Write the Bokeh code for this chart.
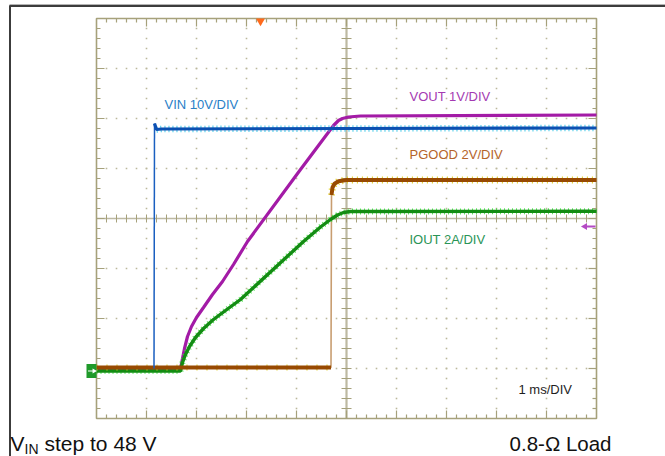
import numpy as np
from bokeh.plotting import figure
from bokeh.models import Range1d
from bokeh.core.properties import value
from bokeh.embed import file_html
from bokeh.resources import INLINE

# ---------------- data (time in ms from left edge of screen, 1 ms/DIV) ----------------
vin_t = [0.0, 1.15, 1.16, 1.20, 1.30, 5.0, 10.0]
vin_v = [0.0, 0.0, 49.0, 47.8, 47.9, 48.0, 48.1]          # V, 10 V/DIV

vout_t = [0.0, 1.68, 1.72, 1.76, 1.82, 1.90, 2.00, 2.14, 2.32, 2.52, 2.74, 3.02, 4.08,
          4.74, 4.84, 4.92, 5.04, 5.28, 10.0]
vout_v = [0.0, 0.0, 0.20, 0.40, 0.64, 0.84, 1.02, 1.22, 1.48, 1.74, 2.08, 2.54, 3.98,
          4.86, 4.96, 5.00, 5.03, 5.05, 5.07]             # V, 1 V/DIV

pg_t = [0.0, 4.69, 4.70, 4.72, 4.76, 4.84, 5.0, 10.0]
pg_v = [0.0, 0.0, 6.9, 7.2, 7.35, 7.45, 7.5, 7.5]          # V, 2 V/DIV

iout_t = [0.0, 1.68, 1.72, 1.78, 1.86, 1.98, 2.14, 2.34, 2.58, 2.88, 4.14, 4.48, 4.68,
          4.82, 4.94, 5.08, 10.0]
iout_a = [0.0, 0.0, 0.34, 0.66, 0.98, 1.34, 1.70, 2.06, 2.42, 2.86, 5.18, 5.76, 6.06,
          6.24, 6.34, 6.38, 6.39]                          # A, 2 A/DIV

vin_scale, vout_scale, pg_scale, iout_scale = 10.0, 1.0, 2.0, 2.0
vin_off, vout_off, pg_off, iout_off = -3.0, -3.0, -2.98, -3.05   # ground levels (DIV)

trigger_t = 3.28

labels = ["VIN 10V/DIV", "VOUT 1V/DIV", "PGOOD 2V/DIV", "IOUT 2A/DIV"]


def to_div(vals, scale, off):
    return [off + v / scale for v in vals]


vin_y = to_div(vin_v, vin_scale, vin_off)
vout_y = to_div(vout_v, vout_scale, vout_off)
pg_y = to_div(pg_v, pg_scale, pg_off)
iout_y = to_div(iout_a, iout_scale, iout_off)

# ---------------- figure ----------------
p = figure(width=665, height=456, x_range=Range1d(-1.92, 11.38), y_range=Range1d(-4.76, 4.36),
           x_axis_type=None, y_axis_type=None, toolbar_location=None, output_backend="svg",
           min_border=0, min_border_left=0, min_border_right=0, min_border_top=0, min_border_bottom=0)
p.grid.visible = False
p.outline_line_color = None
p.background_fill_color = "white"
p.border_fill_color = "white"

FRAME = "#a6a17b"
DOT = "#bcb89c"
CENTER = "#bdb9a2"

# page border lines
p.line([-1.74, 11.38], [4.28, 4.28], line_color="#b4b4b4", line_width=1)
p.line([-1.74, 11.38], [4.25, 4.25], line_color="#3c3c3c", line_width=2)
p.line([-1.73, -1.73], [4.26, -4.76], line_color="#3c3c3c", line_width=2)

# dotted grid
xs_minor = np.round(np.arange(0, 10.001, 0.2), 3)
ys_minor = np.round(np.arange(-4, 4.001, 0.2), 3)
dx, dy = [], []
for gx in [1, 2, 3, 4, 6, 7, 8, 9]:
    for yy in ys_minor[1:-1]:
        dx.append(gx); dy.append(yy)
for gy in [-3, -2, -1, 1, 2, 3]:
    for xx in xs_minor[1:-1]:
        dx.append(xx); dy.append(gy)
p.scatter(dx, dy, marker="square", size=1.6, fill_color=DOT, line_color=None)

# center axes
p.line([0, 10], [0, 0], line_color=CENTER, line_width=1.6)
p.line([5, 5], [-4, 4], line_color=CENTER, line_width=2.2)
cx = [x for x in xs_minor[1:-1]]
p.segment(cx, [-0.08] * len(cx), cx, [0.08] * len(cx), line_color=FRAME, line_width=1)
cy = [y for y in ys_minor[1:-1]]
p.segment([4.9] * len(cy), cy, [5.1] * len(cy), cy, line_color=FRAME, line_width=1)

# border ticks
def tick_len(v):
    return 0.16 if abs(v - round(v)) < 1e-6 else 0.08

tx0, ty0, tx1, ty1 = [], [], [], []
for xx in xs_minor[1:-1]:
    L = tick_len(xx)
    tx0 += [xx, xx]; ty0 += [4, -4]; tx1 += [xx, xx]; ty1 += [4 - L, -4 + L]
for yy in ys_minor[1:-1]:
    L = tick_len(yy)
    tx0 += [0, 10]; ty0 += [yy, yy]; tx1 += [L, 10 - L]; ty1 += [yy, yy]
p.segment(tx0, ty0, tx1, ty1, line_color=FRAME, line_width=1.2)

# frame
p.quad(left=[0], right=[10], bottom=[-4], top=[4], fill_color=None, line_color=FRAME, line_width=1.6)

# ---------------- traces ----------------
# PGOOD fast edge (thin, light)
p.line(pg_t, pg_y, line_color="#c89d70", line_width=1.6)

# VOUT
p.line(vout_t, vout_y, line_color="#a31ba6", line_width=3.2)

# IOUT noise + trace
p.line(iout_t, iout_y, line_color="#3be33b", line_width=6, line_dash="1 3", line_alpha=0.8)
p.line(iout_t, iout_y, line_color="#138c13", line_width=3.4)

# PGOOD noise + flat parts
p.line(pg_t[2:], pg_y[2:], line_color="#e3d21e", line_width=7, line_dash="1 4")
p.line(pg_t[:2], pg_y[:2], line_color="#e3d21e", line_width=6, line_dash="1 9")
p.line(pg_t[:2], pg_y[:2], line_color="#984a02", line_width=4)
p.line(pg_t[2:], pg_y[2:], line_color="#984a02", line_width=4)

# VIN step (thin) + noise + settled part
p.line(vin_t[1:3], vin_y[1:3], line_color="#1a5fc0", line_width=1.5)
p.line(vin_t[3:], vin_y[3:], line_color="#40c8e8", line_width=6.5, line_dash="1 3")
p.line(vin_t[2:], vin_y[2:], line_color="#0c50b2", line_width=3.2)

# ---------------- markers ----------------
# trigger position (top)
p.scatter([trigger_t], [3.95], marker="inverted_triangle", size=9, fill_color="#ff6a1c", line_color=None)
# IOUT ground marker (left)
p.quad(left=[-0.2], right=[0], bottom=[iout_off - 0.14], top=[iout_off + 0.14],
       fill_color="#1f9a2a", line_color=None)
p.line([-0.17, -0.05], [iout_off, iout_off], line_color="white", line_width=1.2)
p.scatter([-0.05], [iout_off], marker="triangle", angle=-np.pi / 2, size=5,
          fill_color="white", line_color=None)
# reference marker (right)
p.line([9.78, 9.98], [-0.16, -0.16], line_color="#b44ac4", line_width=2)
p.scatter([9.77], [-0.16], marker="triangle", angle=np.pi / 2, size=7,
          fill_color="#b44ac4", line_color=None)

# ---------------- labels ----------------
FONT = value("Liberation Sans")
p.text([1.36], [2.28], text=[labels[0]], text_color="#2a7fc8", text_font=FONT,
       text_font_size="13px", text_baseline="middle", text_align="left")
p.text([6.26], [2.44], text=[labels[1]], text_color="#a43ab2", text_font=FONT,
       text_font_size="13px", text_baseline="middle", text_align="left")
p.text([6.26], [1.28], text=[labels[2]], text_color="#b5642a", text_font=FONT,
       text_font_size="13px", text_baseline="middle", text_align="left")
p.text([6.26], [-0.42], text=[labels[3]], text_color="#2a9456", text_font=FONT,
       text_font_size="13px", text_baseline="middle", text_align="left")
p.text([8.44], [-3.42], text=["1 ms/DIV"], text_color="#1e1e1e", text_font=FONT,
       text_font_size="13px", text_baseline="middle", text_align="left")

# bottom captions
p.text([-1.72], [-4.50], text=["V"], text_color="#111111", text_font=FONT,
       text_font_size="21px", text_baseline="middle", text_align="left")
p.text([-1.44], [-4.60], text=["IN"], text_color="#111111", text_font=FONT,
       text_font_size="14px", text_baseline="middle", text_align="left")
p.text([-1.04], [-4.50], text=["step to 48 V"], text_color="#111111", text_font=FONT,
       text_font_size="21px", text_baseline="middle", text_align="left")
p.text([10.3], [-4.50], text=["0.8-\u03a9 Load"], text_color="#111111", text_font=FONT,
       text_font_size="20.5px", text_baseline="middle", text_align="right")

open("out.html", "w").write(file_html(p, INLINE))
